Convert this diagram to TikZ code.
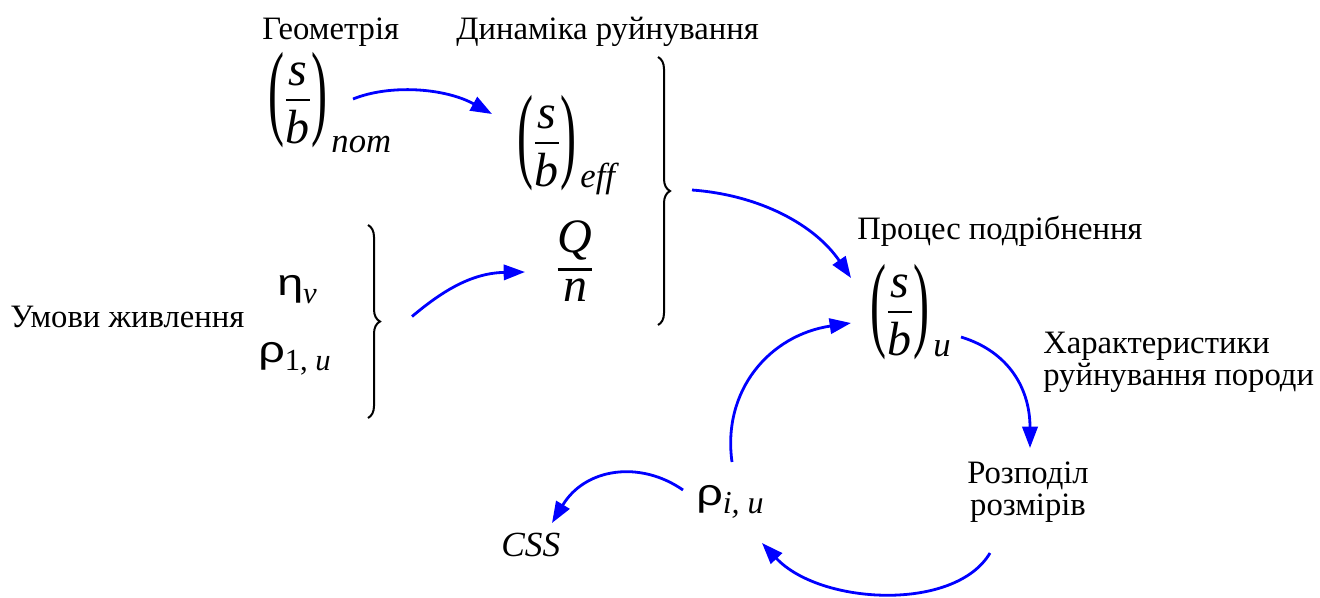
\documentclass[tikz,border=0pt]{standalone}
\usepackage{amsmath}
\usepackage{graphicx}
\usepackage{fontspec}
\setmainfont{Liberation Serif}
\newfontfamily\serit{Liberation Serif Italic}
\newfontfamily\grfont{Liberation Sans}
\usetikzlibrary{arrows.meta,decorations.pathreplacing}
\newcommand\mylp{\vcenter{\hbox{\scalebox{1}[2.2]{(}}}}
\newcommand\myrp{\vcenter{\hbox{\scalebox{1}[2.2]{)}}}}
\newcommand\itl[1]{\hbox{\fontsize{36}{40}\serit #1}}
\newcommand\fsb[2]{$\mylp\genfrac{}{}{2.2pt}{0}{\itl{s}}{\itl{b}}\myrp\kern3pt\raisebox{#2}[0pt][0pt]{\fontsize{26}{26}\serit #1}$}
\newcommand\grk[1]{{\grfont\scalebox{1.25}[1]{#1}}}
\tikzset{
  lbl/.style={font=\fontsize{24.5}{24}\selectfont, inner sep=0pt},
  mth/.style={font=\fontsize{36}{40}\selectfont, inner sep=0pt},
  grkn/.style={font=\fontsize{28}{32}\selectfont, inner sep=0pt},
  arr/.style={draw=blue, line width=2.1pt, -{Triangle[length=16pt,width=11.5pt]}},
  brc/.style={draw, line width=1.5pt, decorate, decoration={brace, amplitude=9pt}},
}
\begin{document}
\begin{tikzpicture}[x=0.75pt,y=-0.75pt]
\useasboundingbox[fill=white] (0,0) rectangle (1320,597);
% labels
\node[lbl,anchor=base west] (geo) at (262,39) {Геометрія};
\node[lbl,anchor=base west] (din) at (456,39) {Динаміка руйнування};
\node[lbl,anchor=base west] (umovy) at (10,327) {Умови живлення};
\node[lbl,anchor=base west] (proc) at (857,239) {Процес подрібнення};
\node[lbl,anchor=north west,align=left] (har) at (1043,332) {Характеристики\\руйнування породи};
\node[lbl,align=center] (rozp) at (1028,492) {Розподіл\\розмірів};
% formulas
\node[mth,anchor=west] (nom) at (268,100) {\fsb{nom}{-33pt}};
\node[mth,anchor=west] (eff) at (517,143) {\fsb{eff}{-27pt}};
\node[mth] (Qn) at (575,261) {$\genfrac{}{}{2pt}{0}{\itl{Q}}{\itl{n}}$};
\node[mth,anchor=west] (sbu) at (870,312) {\fsb{u}{-27pt}};
\node[grkn,anchor=base west] (eta) at (277,295) {\grk{η}\raisebox{-6pt}{\fontsize{23}{23}\serit v}};
\node[grkn,anchor=base west] (rho1) at (258,362) {\grk{ρ}\raisebox{-6pt}{\fontsize{23}{23}\selectfont 1, \serit u}};
\node[grkn,anchor=base west] (rhoi) at (696,505) {\grk{ρ}\raisebox{-6pt}{\fontsize{24}{24}\serit i,\ u}};
\node[lbl,anchor=base west,font=\fontsize{26.5}{28}\serit] (css) at (501,556) {CSS};
% braces
\draw[brc] (658,57) -- (658,325) coordinate[pos=0.5] (b1mid);
\draw[brc] (368,225) -- (368,418) coordinate[pos=0.5] (b2mid);
\coordinate (b1tip) at ([xshift=12]b1mid);
\coordinate (b2tip) at ([xshift=12]b2mid);
% arrows
\draw[arr] ([shift={(85,-1)}]nom.west) .. controls (390,84) and (445,88) .. ([shift={(-25,-29)}]eff.west);
\draw[arr] ([shift={(28,-5)}]b2tip) .. controls (440,293) and (470,273) .. ([shift={(-50,11)}]Qn.center);
\draw[arr] ([shift={(18,-1)}]b1tip) .. controls (760,195) and (815,225) .. ([shift={(-19,-34)}]sbu.west);
\draw[arr] ([shift={(36,-43)}]rhoi.base west) .. controls (722,390) and (770,335) .. ([shift={(-19,11)}]sbu.west);
\draw[arr] ([shift={(91,25)}]sbu.west) .. controls (1010,352) and (1030,390) .. ([shift={(2,-44)}]rozp.center);
\draw[arr] ([shift={(-38,61)}]rozp.center) .. controls (955,612) and (820,605) .. ([shift={(66,38)}]rhoi.base west);
\draw[arr] ([shift={(-13,-15)}]rhoi.base west) .. controls (640,460) and (585,468) .. ([shift={(51,-33)}]css.base west);
\end{tikzpicture}
\end{document}
